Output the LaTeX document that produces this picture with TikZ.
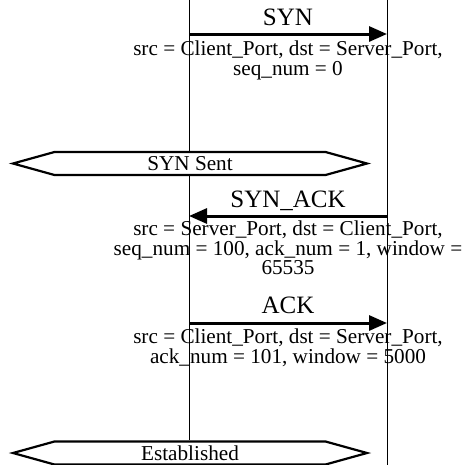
\documentclass[tikz,border=0pt]{standalone}
\usepackage{fontspec}
\setmainfont{Liberation Serif}
\usetikzlibrary{arrows.meta,shapes.symbols}

\tikzset{
  lifeline/.style={draw=black, line width=1pt},
  msgarrow/.style={draw=black, line width=3pt, -{Triangle[length=18pt,width=15pt]}, shorten >=0pt},
  msgname/.style={anchor=base, inner sep=0pt, font=\fontsize{25}{28}\selectfont},
  % anchor=base of a multi-line node sits on its last line
  msgfields/.style={anchor=base, inner sep=0pt, align=center, font=\fontsize{21.2}{19.5}\selectfont},
  statebox/.style={signal, signal to=west and east, signal pointer angle=31,
    draw=black, line width=2.2pt, fill=white, minimum width=354pt, minimum height=23pt,
    inner sep=0pt, font=\fontsize{21.2}{22}\selectfont},
}

\begin{document}
\begin{tikzpicture}[x=1pt, y=-1pt]
  \useasboundingbox (0,0) rectangle (465,464);

  % lifelines of client and server
  \coordinate (clienttop) at (189,-2);
  \coordinate (clientbot) at (189,440);
  \coordinate (servertop) at (387,-2);
  \coordinate (serverbot) at (387,470);
  \draw[lifeline] (clienttop) -- (clientbot);
  \draw[lifeline] (servertop) -- (serverbot);

  % SYN
  \coordinate (synfrom) at (189,34);
  \coordinate (synto) at (387,34);
  \draw[msgarrow] (synfrom) -- (synto);
  \node[msgname] (synname) at (288,25) {SYN};
  \node[msgfields] (synfields) at (288,75) {src = Client\_Port, dst = Server\_Port,\\ seq\_num = 0};

  % state after SYN
  \node[statebox] (synsent) at (190,163.5) {SYN Sent};

  % SYN_ACK
  \coordinate (synackfrom) at (387,216);
  \coordinate (synackto) at (189,216);
  \draw[msgarrow] (synackfrom) -- (synackto);
  \node[msgname] (synackname) at (288,207) {SYN\_ACK};
  \node[msgfields] (synackfields) at (288,274.5) {src = Server\_Port, dst = Client\_Port,\\ seq\_num = 100, ack\_num = 1, window =\\ 65535};

  % ACK
  \coordinate (ackfrom) at (189,323);
  \coordinate (ackto) at (387,323);
  \draw[msgarrow] (ackfrom) -- (ackto);
  \node[msgname] (ackname) at (288,313) {ACK};
  \node[msgfields] (ackfields) at (288,363) {src = Client\_Port, dst = Server\_Port,\\ ack\_num = 101, window = 5000};

  % state after ACK
  \node[statebox] (established) at (190,453) {Established};
\end{tikzpicture}
\end{document}
